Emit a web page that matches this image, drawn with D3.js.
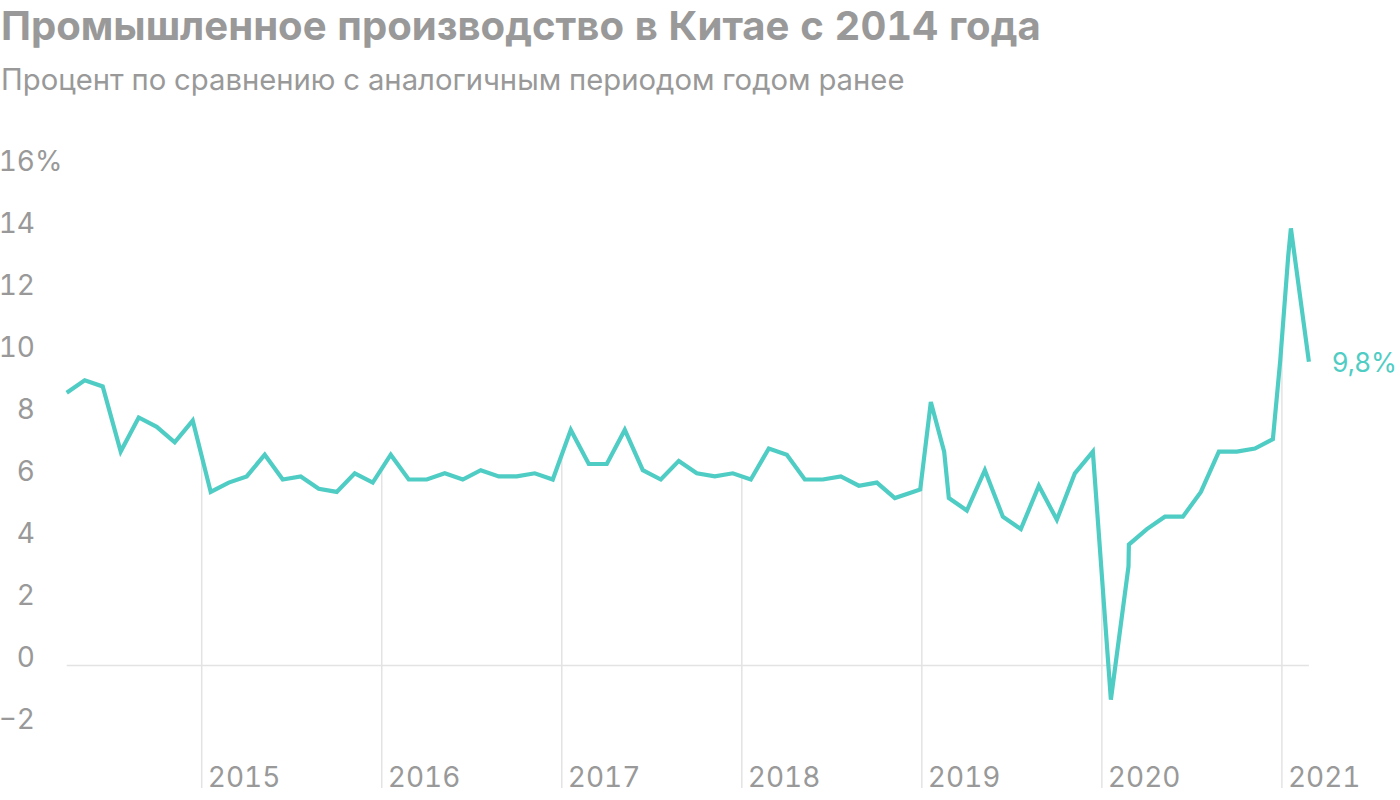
<!DOCTYPE html>
<html>
<head>
<meta charset="utf-8">
<title>Промышленное производство в Китае</title>
<script src="https://cdnjs.cloudflare.com/ajax/libs/d3/7.8.5/d3.min.js"></script>
<style>
  body, html { margin: 0; padding: 0; background: #fff; }
  text { font-family: Inter, "Noto Sans", sans-serif; font-variant-numeric: tabular-nums; }
  .title { font-weight: 700; fill: #999; }
  .subtitle { fill: #999; }
  .tick { fill: #999; font-size: 28px; }
  .year { fill: #999; font-size: 28px; }
  .last { font-variant-numeric: normal; }
</style>
</head>
<body>
<script>
// reported months (China publishes Jan-Feb jointly, so Jan and Feb are absent)
const months = [
  "2014-05","2014-06","2014-07","2014-08","2014-09","2014-10","2014-11","2014-12",
  "2015-03","2015-04","2015-05","2015-06","2015-07","2015-08","2015-09","2015-10","2015-11","2015-12",
  "2016-03","2016-04","2016-05","2016-06","2016-07","2016-08","2016-09","2016-10","2016-11","2016-12",
  "2017-03","2017-04","2017-05","2017-06","2017-07","2017-08","2017-09","2017-10","2017-11","2017-12",
  "2018-03","2018-04","2018-05","2018-06","2018-07","2018-08","2018-09","2018-10","2018-11","2018-12",
  "2019-03","2019-04","2019-05","2019-06","2019-07","2019-08","2019-09","2019-10","2019-11","2019-12",
  "2020-03","2020-04","2020-05","2020-06","2020-07","2020-08","2020-09","2020-10","2020-11","2020-12",
  "2021-03","2021-04"
];
// year-on-year growth, %
const values = [
  8.8, 9.2, 9.0, 6.9, 8.0, 7.7, 7.2, 7.9,
  5.6, 5.9, 6.1, 6.8, 6.0, 6.1, 5.7, 5.6, 6.2, 5.9,
  6.8, 6.0, 6.0, 6.2, 6.0, 6.3, 6.1, 6.1, 6.2, 6.0,
  7.6, 6.5, 6.5, 7.6, 6.3, 6.0, 6.6, 6.2, 6.1, 6.2,
  6.0, 7.0, 6.8, 6.0, 6.0, 6.1, 5.8, 5.9, 5.4, 5.6,
  8.5, 5.4, 5.0, 6.3, 4.8, 4.4, 5.8, 4.7, 6.2, 6.9,
  -1.1, 3.9, 4.4, 4.8, 4.8, 5.6, 6.9, 6.9, 7.0, 7.3,
  14.1, 9.8
];
// extra bends of the drawn line around the year breaks: [position in months, value]
const bends = [[47.41, 5.68], [48.74, 6.9], [58.98, 3.2], [67.41, 9.85], [67.85, 13.2]];

const yTicks = [-2, 0, 2, 4, 6, 8, 10, 12, 14, 16];
const years = ["2015", "2016", "2017", "2018", "2019", "2020", "2021"];

const width = 1400, height = 800;
const color = "#4fcdc4";
const ru = d3.formatLocale({decimal: ",", thousands: "\u00a0", grouping: [3], currency: ["", " ₽"], minus: "\u2212"});
const fmtTick = ru.format("d");
const fmtLast = ru.format(".1f");

const svg = d3.create("svg")
    .attr("width", width)
    .attr("height", height)
    .attr("viewBox", [0, 0, width, height]);

const x = d3.scaleLinear().domain([0, months.length - 1]).range([66.7, 1308.9]);
const y = d3.scaleLinear().domain([-2, 16]).range([727.5, 169.5]);
const bottom = 788;

const points = values.map((v, i) => [i, v]).concat(bends).sort((a, b) => a[0] - b[0]);

// title + subtitle
const title = svg.append("text").attr("class", "title")
    .attr("x", 1).attr("y", 40).style("font-size", "38px")
    .text("Промышленное производство в Китае с 2014 года");
const subtitle = svg.append("text").attr("class", "subtitle")
    .attr("x", 1).attr("y", 90).style("font-size", "28px")
    .text("Процент по сравнению с аналогичным периодом годом ранее");

// fit a text to the width seen in the picture
function fit(sel, target) {
  const w = sel.node().getComputedTextLength();
  const fs = parseFloat(sel.style("font-size"));
  sel.style("font-size", (fs * target / w) + "px");
}

// y tick labels
svg.append("g").selectAll("text")
  .data(yTicks)
  .join("text")
    .attr("class", "tick")
    .attr("x", 35)
    .attr("y", d => y(d) + 1)
    .attr("text-anchor", "end")
    .text(d => fmtTick(d));
svg.append("text")
    .attr("class", "tick")
    .attr("x", 35)
    .attr("y", y(16) + 1)
    .text("%");

// value of the line at a given position (used to stop the year lines at the line)
function lineAt(p) {
  for (let i = 1; i < points.length; i++) {
    const a = points[i - 1], b = points[i];
    if (p >= a[0] && p <= b[0]) return a[1] + (b[1] - a[1]) * (p - a[0]) / (b[0] - a[0]);
  }
  return 0;
}

// year separators: between December and March
const yearPos = years.map(yr => ({year: yr, p: months.indexOf(yr + "-03") - 0.5}));

svg.append("g")
    .attr("stroke", "#e3e3e3")
    .attr("stroke-width", 1.5)
  .selectAll("line")
  .data(yearPos)
  .join("line")
    .attr("x1", d => x(d.p)).attr("x2", d => x(d.p))
    .attr("y1", bottom)
    .attr("y2", d => y(lineAt(d.p)));

svg.append("g").selectAll("text")
  .data(yearPos)
  .join("text")
    .attr("class", "year")
    .attr("x", d => x(d.p) + 6)
    .attr("y", 787)
    .text(d => d.year);

// zero line
svg.append("line")
    .attr("x1", x(0)).attr("x2", x(months.length - 1))
    .attr("y1", y(0)).attr("y2", y(0))
    .attr("stroke", "#e3e3e3")
    .attr("stroke-width", 1.5);

// the series
const line = d3.line().x(d => x(d[0])).y(d => y(d[1]));
svg.append("path")
    .datum(points)
    .attr("fill", "none")
    .attr("stroke", color)
    .attr("stroke-width", 4.2)
    .attr("d", line);

// last value label
const last = values.length - 1;
const lastLabel = svg.append("text")
    .attr("class", "last")
    .attr("x", x(last) + 23)
    .attr("y", y(values[last]) + 10)
    .attr("fill", color)
    .style("font-size", "28px")
    .text(fmtLast(values[last]) + "%");

document.body.appendChild(svg.node());
fit(title, 1040);
fit(subtitle, 904);
fit(lastLabel, 65);
</script>
</body>
</html>
